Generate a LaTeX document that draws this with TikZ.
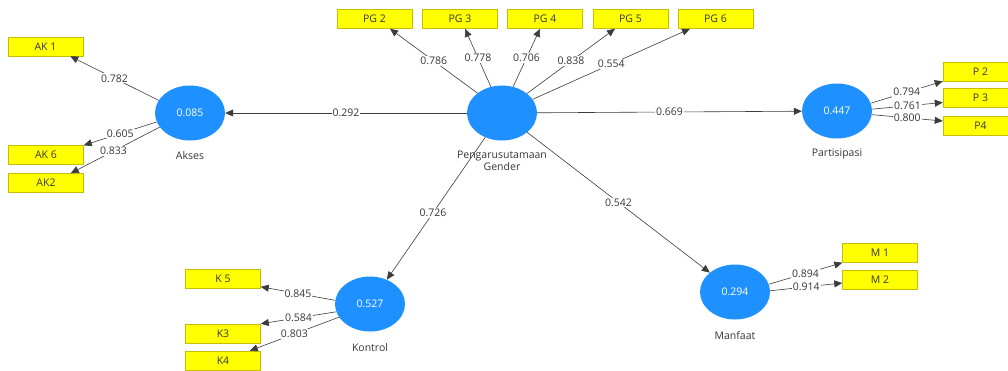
\documentclass[tikz,border=0pt]{standalone}
\usepackage{fontspec}
\setmainfont{Open Sans}
\usetikzlibrary{shapes.geometric,arrows.meta,calc}
\definecolor{cblue}{RGB}{30,144,255}
\definecolor{ind}{RGB}{255,255,0}
\definecolor{indb}{RGB}{200,190,0}
\definecolor{txt}{RGB}{55,55,55}
\definecolor{ln}{RGB}{60,60,60}
\begin{document}
\begin{tikzpicture}[x=1pt,y=-1pt,
  lv/.style={ellipse,fill=cblue,draw=none,minimum width=70pt,minimum height=55pt,inner sep=0pt,text=white,font=\fontsize{10.5}{12}\selectfont},
  mv/.style={rectangle,fill=ind,draw=indb,line width=0.5pt,minimum width=75pt,minimum height=19pt,inner sep=0pt,text=txt,font=\fontsize{10.5}{12}\selectfont},
  nm/.style={text=txt,font=\fontsize{10.5}{11.5}\selectfont,align=center,inner sep=0pt},
  conn/.style={draw=ln,line width=0.6pt,-{Triangle[length=8pt,width=7pt]}},
  wt/.style={fill=white,inner sep=1pt,text=txt,font=\fontsize{10.5}{12}\selectfont,midway}
]
\clip (0,0) rectangle (1008,370);
\fill[white] (0,0) rectangle (1008,370);

% latent variables
\node[lv] (akses) at (190,113) {0.085};
\node[lv] (pg) at (502,113) {};
\node[lv] (part) at (837,111) {0.447};
\node[lv] (kontrol) at (370,304) {0.527};
\node[lv] (manfaat) at (735,292) {0.294};

\node[nm] (aksesL) at (190,156) {Akses};
\node[nm] (pgL) at (502,161) {Pengarusutamaan\\Gender};
\node[nm] (partL) at (837,154) {Partisipasi};
\node[nm] (kontrolL) at (370,348) {Kontrol};
\node[nm] (manfaatL) at (735,336) {Manfaat};

% indicators
\node[mv] (ak1) at (45.5,46.5) {AK 1};
\node[mv] (ak6) at (46,155) {AK 6};
\node[mv] (ak2) at (46,183) {AK2};
\node[mv] (pg2) at (374.5,19) {PG 2};
\node[mv] (pg3) at (460,19) {PG 3};
\node[mv] (pg4) at (545,19) {PG 4};
\node[mv] (pg5) at (630.5,19) {PG 5};
\node[mv] (pg6) at (715.5,19) {PG 6};
\node[mv] (p2) at (980.5,71.5) {P 2};
\node[mv] (p3) at (980.5,97.5) {P 3};
\node[mv] (p4) at (980.5,125.5) {P4};
\node[mv] (k5) at (223,279) {K 5};
\node[mv] (k3) at (223,333.5) {K3};
\node[mv] (k4) at (223,360.5) {K4};
\node[mv] (m1) at (880,253) {M 1};
\node[mv] (m2) at (880,280) {M 2};

% structural paths
\draw[conn] (pg) -- (akses) node[wt] {0.292};
\draw[conn] (pg) -- (part) node[wt] {0.669};
\draw[conn] (pg) -- (kontrol) node[wt,pos=0.53] {0.726};
\draw[conn] (pg) -- (manfaat) node[wt] {0.542};

% Akses loadings
\draw[conn] (akses.158) -- ($(ak1.south east)+(-13,0)$) node[wt] {0.782};
\draw[conn] (akses.195) -- (ak6.north east) node[wt] {0.605};
\draw[conn] (akses.205) -- ($(ak2.north east)+(-13,0)$) node[wt,pos=0.52] {0.833};

% PG loadings
\draw[conn] (pg.141) -- ($(pg2.south)+(15.5,0)$) node[wt] {0.786};
\draw[conn] (pg.113) -- ($(pg3.south)+(5,0)$) node[wt] {0.778};
\draw[conn] (pg.67) -- ($(pg4.south)+(-5,0)$) node[wt] {0.706};
\draw[conn] (pg.38) -- ($(pg5.south)+(-15.5,0)$) node[wt] {0.838};
\draw[conn] (pg.24) -- ($(pg6.south)+(-25.5,0)$) node[wt] {0.554};

% Partisipasi loadings
\draw[conn] (part.13) -- (p2.south west) node[wt] {0.794};
\draw[conn] (part.3) -- ($(p3.west)+(0,5)$) node[wt] {0.761};
\draw[conn] (part.-6) -- ($(p4.west)+(0,-4.5)$) node[wt] {0.800};

% Kontrol loadings
\draw[conn] (kontrol.174) -- ($(k5.south east)+(0,-2)$) node[wt] {0.845};
\draw[conn] (kontrol.193) -- (k3.north east) node[wt] {0.584};
\draw[conn] (kontrol.203) -- ($(k4.north east)+(-11,0)$) node[wt] {0.803};

% Manfaat loadings
\draw[conn] (manfaat.13) -- (m1.south west) node[wt] {0.894};
\draw[conn] (manfaat.2) -- ($(m2.west)+(0,3)$) node[wt] {0.914};
\end{tikzpicture}
\end{document}
